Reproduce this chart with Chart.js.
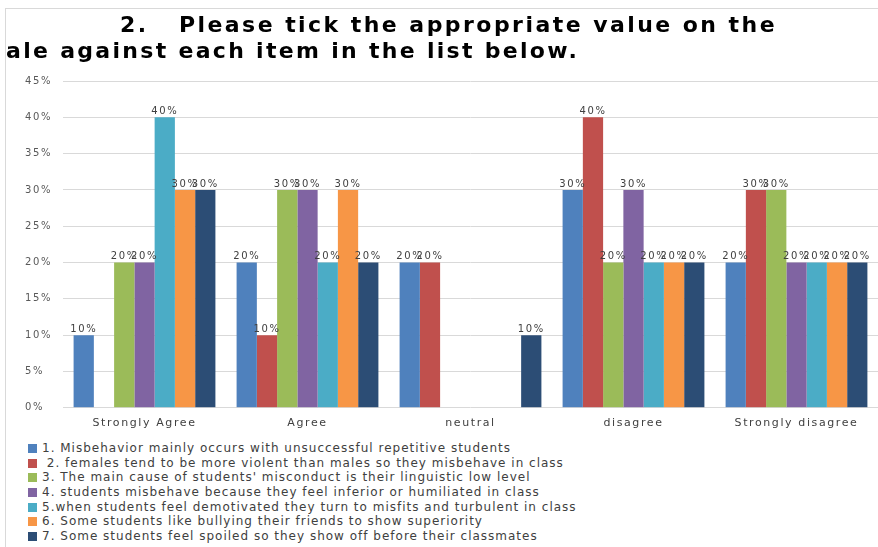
<!DOCTYPE html>
<html>
<head>
<meta charset="utf-8">
<script src="https://cdn.jsdelivr.net/npm/chart.js@4"></script>
<style>
  body { margin: 0; background: #fff; }
  #wrap { position: relative; width: 878px; height: 547px; overflow: hidden; }
  #frame { position: absolute; left: 5px; top: 8px; right: -2px; bottom: -2px; border: 1px solid #d9d9d9; }
  .ttl { position: absolute; font-family: "DejaVu Sans", sans-serif; font-weight: bold; font-size: 22px; letter-spacing: 2.3px; color: #000; white-space: pre; }
  #t1 { left: 120px; top: 12px; letter-spacing: 2.45px; }
  #t2 { left: 6px; top: 38px; }
  canvas { position: absolute; left: 0; top: 0; }
  #legend { position: absolute; left: 28px; top: 441px; font-family: "DejaVu Sans", sans-serif; font-size: 12px; letter-spacing: 1px; color: #404040; }
  .item { height: 14.67px; line-height: 14.67px; white-space: pre; }
  .box { display: inline-block; width: 9px; height: 9px; margin-right: 5px; vertical-align: -1px; }
</style>
</head>
<body>
<div id="wrap">
  <div id="frame"></div>
  <canvas id="chart" width="878" height="440"></canvas>
  <div class="ttl" id="t1">2.   Please tick the appropriate value on the</div>
  <div class="ttl" id="t2">ale against each item in the list below.</div>
  <div id="legend"></div>
</div>
<script>
const categories = ['Strongly Agree', 'Agree', 'neutral', 'disagree', 'Strongly disagree'];

const seriesNames = [
    '1. Misbehavior mainly occurs with unsuccessful repetitive students',
    ' 2. females tend to be more violent than males so they misbehave in class',
    '3. The main cause of students\' misconduct is their linguistic low level',
    '4. students misbehave because they feel inferior or humiliated in class',
    '5.when students feel demotivated they turn to misfits and turbulent in class',
    '6. Some students like bullying their friends to show superiority',
    '7. Some students feel spoiled so they show off before their classmates'
];

// percent per category, one array per item
const item1 = [10, 20, 20, 30, 20];
const item2 = [0, 10, 20, 40, 30];
const item3 = [20, 30, 0, 20, 30];
const item4 = [20, 30, 0, 30, 20];
const item5 = [40, 20, 0, 20, 20];
const item6 = [30, 30, 0, 20, 20];
const item7 = [30, 20, 10, 20, 20];

const colors = ['#4F81BD', '#C0504D', '#9BBB59', '#8064A2', '#4BACC6', '#F79646', '#2C4D75'];

const seriesValues = [item1, item2, item3, item4, item5, item6, item7];

// wide comic-style text: add letter spacing to everything drawn on the canvas
const spacing = {
    id: 'spacing',
    beforeLayout(chart) { chart.ctx.letterSpacing = '1.6px'; },
    beforeDraw(chart) { chart.ctx.letterSpacing = '1.6px'; }
};

const valueLabels = {
    id: 'valueLabels',
    afterDatasetsDraw(chart) {
        const ctx = chart.ctx;
        ctx.save();
        ctx.font = '10px "DejaVu Sans", sans-serif';
        ctx.fillStyle = '#404040';
        ctx.textAlign = 'center';
        ctx.textBaseline = 'bottom';
        chart.data.datasets.forEach((ds, i) => {
            chart.getDatasetMeta(i).data.forEach((bar, j) => {
                const v = ds.data[j];
                if (!v) return;
                ctx.fillText(v + '%', bar.x, bar.y - 1);
            });
        });
        ctx.restore();
    }
};

const ctx = document.getElementById('chart').getContext('2d');
const chart = new Chart(ctx, {
    type: 'bar',
    data: {
        labels: categories,
        datasets: seriesValues.map((vals, i) => ({
            label: seriesNames[i],
            data: vals,
            backgroundColor: colors[i],
            borderWidth: 0,
            categoryPercentage: 0.87,
            barPercentage: 1
        }))
    },
    options: {
        responsive: false,
        animation: false,
        layout: { padding: { left: 25, right: 0, top: 81, bottom: 9 } },
        scales: {
            x: {
                grid: { display: false },
                border: { display: false },
                ticks: {
                    color: '#404040',
                    font: { family: 'DejaVu Sans', size: 11 },
                    padding: 1
                }
            },
            y: {
                min: 0,
                max: 45,
                ticks: {
                    stepSize: 5,
                    crossAlign: 'far',
                    color: '#595959',
                    font: { family: 'DejaVu Sans', size: 10 },
                    callback: v => v + '%'
                },
                grid: { color: '#d9d9d9', drawTicks: false },
                border: { display: false },
                afterFit: axis => { axis.width = 38; }
            }
        },
        plugins: {
            title: { display: false },
            tooltip: { enabled: false },
            legend: { display: false }
        }
    },
    plugins: [spacing, valueLabels]
});

// legend, one item per line like the original
const legend = document.getElementById('legend');
chart.data.datasets.forEach(ds => {
    const row = document.createElement('div');
    row.className = 'item';
    const box = document.createElement('span');
    box.className = 'box';
    box.style.background = ds.backgroundColor;
    row.appendChild(box);
    row.appendChild(document.createTextNode(ds.label));
    legend.appendChild(row);
});
</script>
</body>
</html>
